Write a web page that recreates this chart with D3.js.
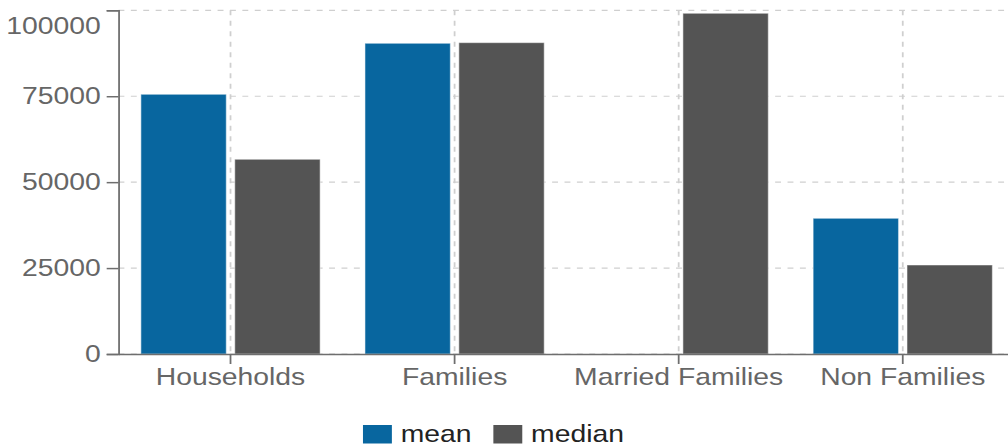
<!DOCTYPE html>
<html>
<head>
<meta charset="utf-8">
<script src="https://cdn.jsdelivr.net/npm/d3@7"></script>
<style>
  html, body { margin: 0; padding: 0; background: #fff; overflow: hidden; }
  svg { display: block; font-family: "Liberation Sans", Arial, sans-serif; }
</style>
</head>
<body>
<svg id="chart" width="1008" height="447"></svg>
<script>
const categories = ["Households", "Families", "Married Families", "Non Families"];
const seriesNames = ["mean", "median"];
const meanValues = [75560, 90400, null, 39480];
const medianValues = [56650, 90580, 99130, 25890];
const yTicks = [0, 25000, 50000, 75000, 100000];
const seriesColors = ["#08669f", "#545454"];

const stretch = 1.18;
const svg = d3.select("#chart");
const g = svg.append("g").attr("transform", `scale(${stretch},1)`);

const x0 = d3.scaleBand().domain(categories).range([100.4, 860]).paddingInner(0.2).paddingOuter(0.1);
const x1 = d3.scaleBand().domain(seriesNames).range([0, x0.bandwidth()]).paddingInner(0.09).paddingOuter(0);
const y = d3.scaleLinear().domain([0, 100000]).range([354, 10.3]);

const gridColor = "#cfcfcf";
// horizontal grid
g.append("g").selectAll("line").data(yTicks).join("line")
  .attr("x1", x0.range()[0]).attr("x2", x0.range()[1])
  .attr("y1", d => y(d)).attr("y2", d => y(d))
  .attr("stroke", gridColor).attr("stroke-width", 1.2).attr("stroke-dasharray", "5,5.5");
// vertical grid
g.append("g").selectAll("line").data(categories).join("line")
  .attr("x1", d => x0(d) + x0.bandwidth() / 2).attr("x2", d => x0(d) + x0.bandwidth() / 2)
  .attr("y1", y(100000)).attr("y2", y(0))
  .attr("stroke", gridColor).attr("stroke-width", 1.5).attr("stroke-dasharray", "5,5.5");

const rows = categories.map((c, i) => ({ cat: c, vals: [meanValues[i], medianValues[i]] }));
g.append("g").selectAll("g").data(rows).join("g")
  .attr("transform", d => `translate(${x0(d.cat)},0)`)
  .selectAll("rect")
  .data(d => d.vals.map((v, j) => ({ key: seriesNames[j], v, j })).filter(e => e.v != null))
  .join("rect")
  .attr("x", d => x1(d.key))
  .attr("width", x1.bandwidth())
  .attr("y", d => y(d.v))
  .attr("height", d => y(0) - y(d.v))
  .attr("fill", d => seriesColors[d.j])
  .attr("stroke", "#ffffff").attr("stroke-opacity", 0.45).attr("stroke-width", 1);

const axisColor = "#6e6e6e";
const textColor = "#666666";

const yAxis = g.append("g").attr("transform", `translate(${x0.range()[0]},0)`)
  .call(d3.axisLeft(y).tickValues(yTicks).tickFormat(d3.format("d")).tickSize(10).tickPadding(5));
const xAxis = g.append("g").attr("transform", `translate(0,${y(0)})`)
  .call(d3.axisBottom(x0).tickSize(10).tickSizeOuter(0).tickPadding(4));

[yAxis, xAxis].forEach(a => {
  a.selectAll("path, line").attr("stroke", axisColor).attr("stroke-width", 1.5);
  a.selectAll("text").attr("fill", textColor).attr("font-size", 24)
    .attr("font-family", '"Liberation Sans", Arial, sans-serif');
});
yAxis.selectAll(".tick text").filter(d => d === 100000).attr("dy", "0.95em");

// legend
const legend = g.append("g").attr("transform", "translate(307.6,425)");
let lx = 0;
seriesNames.forEach((name, i) => {
  const item = legend.append("g").attr("transform", `translate(${lx},0)`);
  item.append("rect").attr("width", 24.5).attr("height", 18.5).attr("fill", seriesColors[i]);
  const t = item.append("text").attr("x", 32).attr("y", 16.5)
    .attr("font-size", 24).attr("fill", "#222").text(name);
  lx += 32 + t.node().getComputedTextLength() + 18.5;
});
</script>
</body>
</html>
